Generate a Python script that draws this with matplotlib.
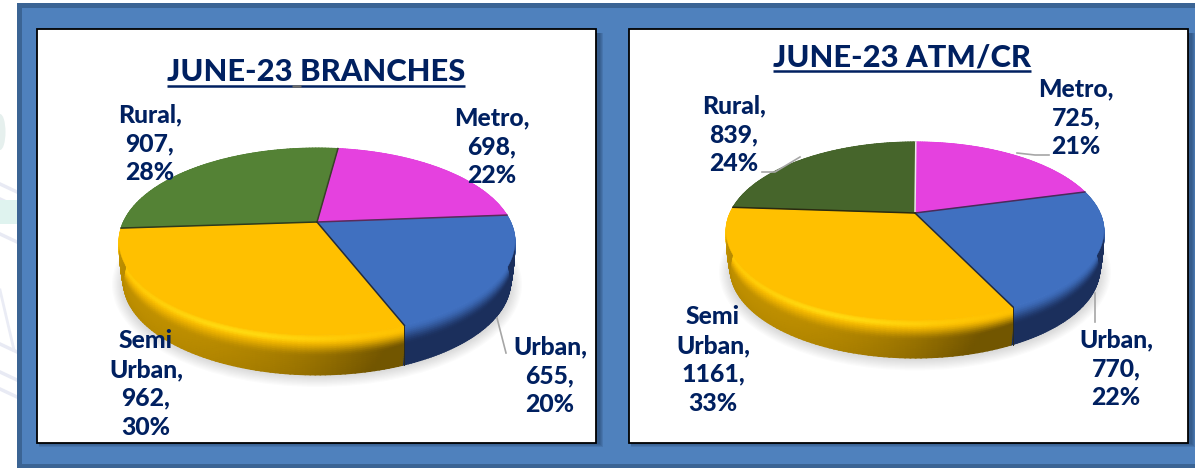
import numpy as np
import matplotlib
matplotlib.use('Agg')
import matplotlib.pyplot as plt
from matplotlib.patches import Rectangle, Ellipse

categories = ['Metro', 'Urban', 'Semi Urban', 'Rural']
branches = [698, 655, 962, 907]
atm_cr = [725, 770, 1161, 839]

title_left = 'JUNE-23 BRANCHES'
title_right = 'JUNE-23 ATM/CR'

navy = '#002060'
grey = '#A6A6A6'
tops = ['#E541DF', '#4070C0', '#FFC000']
darks = ['#6E1F6B', '#1B2F5C', '#6B5000']
green_left = '#548235'
green_right = '#46652B'

plt.rcParams['font.family'] = ['Lato', 'DejaVu Sans']

fig = plt.figure(figsize=(11.95, 4.68), dpi=100)
ax = fig.add_axes([0, 0, 1, 1])
ax.set_xlim(0, 1195)
ax.set_ylim(468, 0)
ax.axis('off')


def rgb(c):
    return np.array(matplotlib.colors.to_rgb(c))


def smooth(v, lo, hi):
    s = np.clip((v - lo) / (hi - lo), 0, 1)
    return s * s * (3 - 2 * s)


def project(theta, cx, cy, a, b, k):
    # theta is clockwise from the back of the pie, k gives the perspective
    u = np.sin(theta)
    v = np.cos(theta)
    p = 1 / (1 + k * v)
    return cx + a * u * p, cy - b * v * p


def draw_pie(values, start, cx, cy, a, b, k, depth, colors, dark_colors, spoke_colors):
    edges = start + 2 * np.pi * np.concatenate([[0], np.cumsum(values)]) / np.sum(values)
    half = a / np.sqrt(1 - k * k)
    shadow_y = cy + b * k / (1 - k * k) + depth + 3

    # soft shadow under the pie
    for i in range(12):
        ax.add_patch(Ellipse((cx, shadow_y), 2 * half + 14 - 2.5 * i, 2 * b + 26 - 2.5 * i,
                             fc='#808080', ec='none', alpha=0.03, zorder=2))

    # side of the pie, back slices first so the front ones cover them
    for i in [3, 0, 1, 2]:
        th = np.linspace(edges[i], edges[i + 1], 90)
        x, y = project(th, cx, cy, a, b, k)
        t = np.linspace(0, 1, 21)
        X = cx + (x[None, :] - cx) * (1 - 0.022 * t[:, None] ** 2)
        Y = y[None, :] + t[:, None] * depth
        h = (x - (cx - half)) / (2 * half)
        base = rgb(colors[i])
        dark = rgb(dark_colors[i])
        C = np.zeros((21, 90, 3))
        for r, tv in enumerate(t):
            if i == 2:
                s = smooth(tv, 0.12, 0.55) * (0.36 + 1.25 * h ** 2.2 + 0.12 * tv)
                s = np.clip(s, 0, 0.95)
                glow = np.exp(-((tv - 0.1) / 0.08) ** 2) * np.exp(-((h - 0.3) / 0.28) ** 2)
                col = base[None, :] * (1 - s[:, None]) + dark * s[:, None]
                col = col * (1 - glow[:, None] * 0.7) + rgb('#FFE81A') * glow[:, None] * 0.7
            else:
                s = smooth(tv, 0.0, 0.5) * np.ones(90)
                col = base[None, :] * (1 - s[:, None]) + dark * s[:, None]
            C[r] = col
        ax.pcolormesh(X, Y, C, shading='gouraud', zorder=3)
    # dark seam where yellow meets blue on the side
    x0, y0 = project(edges[2], cx, cy, a, b, k)
    ax.plot([x0, x0], [y0, y0 + depth], color='#2A2A20', lw=0.7, zorder=4)

    # top of the pie
    for i in range(len(values)):
        th = np.linspace(edges[i], edges[i + 1], 160)
        x, y = project(th, cx, cy, a, b, k)
        ax.fill(np.r_[cx, x], np.r_[cy, y], color=colors[i], lw=0.3, zorder=5)
    for i in range(len(values)):
        x, y = project(edges[i], cx, cy, a, b, k)
        ax.plot([cx, x], [cy, y], color=spoke_colors[i], lw=1.1, zorder=6)


def labels(values):
    total = sum(values)
    out = []
    for name, v in zip(categories, values):
        out.append('%s,\n%d,\n%d%%' % (name.replace(' ', '\n'), v, round(100 * v / total)))
    return out


# page behind the panel, faint clip art on the left
for yy in [190, 205, 240, 350, 378, 395]:
    ax.plot([0, 17], [yy - 6, yy + 2], color='#E8EAF4', lw=2.5, zorder=0)
ax.plot([0, 14], [290, 350], color='#EAECF5', lw=2, zorder=0)
ax.add_patch(Ellipse((0, 132), 11, 36, fc='#E6F0EE', ec='none', zorder=0))
ax.add_patch(Rectangle((0, 200), 17, 24, fc='#DFF3EF', ec='none', zorder=0))

# blue panel
ax.add_patch(Rectangle((17, 3), 1178, 465, fc='#4F81BD', ec='none', zorder=0.5))
for r in [(17, 3, 1178, 5), (17, 3, 5, 465), (17, 464, 1178, 4)]:
    ax.add_patch(Rectangle(r[:2], r[2], r[3], fc='#3B6494', ec='none', zorder=0.6))

# white chart boxes
for x0, w in [(37, 559), (629, 559)]:
    for i in range(4):
        ax.add_patch(Rectangle((x0 + 2, 33), w + 2 + i, 411 + i, fc='#1F3A5F', ec='none',
                               alpha=0.16, zorder=0.8))
    ax.add_patch(Rectangle((x0, 29), w, 414, fc='white', ec='black', lw=1.3, zorder=1))

draw_pie(branches, np.radians(7.5), 317, 222, 193.6, 89.4, 0.2086, 40,
         tops + [green_left], darks + ['#2E4A1C'], ['#3A3F2A', '#5A2A5A', '#1F2A40', '#2E3A1C'])
draw_pie(atm_cr, np.radians(0.3), 915, 213, 185, 85.4, 0.2022, 38,
         tops + [green_right], darks + ['#2E4A1C'], ['#E8E8E8', '#4A2A5A', '#1F2A40', '#2A2A10'])

# leader lines
ax.plot([497, 506], [318, 353], color=grey, lw=1.2, zorder=7)
ax.plot([1017, 1035, 1049], [153, 155, 155], color=grey, lw=1.2, zorder=7)
ax.plot([800, 775, 762], [157, 172, 172], color=grey, lw=1.2, zorder=7)
ax.plot([1095, 1095], [293, 322], color=grey, lw=1.2, zorder=7)

# data labels
left_pos = [(492, 147), (550, 376), (146, 384), (150, 144)]
right_pos = [(1076, 118), (1116, 369), (713, 360), (734, 135)]
for txts, pos in [(labels(branches), left_pos), (labels(atm_cr), right_pos)]:
    for s, (x, y) in zip(txts, pos):
        ax.text(x, y, s, ha='center', va='center', color=navy, fontsize=17.8,
                fontweight=900, linespacing=1.3, zorder=8)

# titles
ax.text(316, 81, title_left, ha='center', va='baseline', color=navy, fontsize=22.2, fontweight=900, zorder=8)
ax.text(902, 67, title_right, ha='center', va='baseline', color=navy, fontsize=22.2, fontweight=900, zorder=8)
ax.plot([167, 465], [86, 86], color=navy, lw=1.8, solid_capstyle='butt', zorder=8)
ax.plot([292, 301], [86, 86], color='#6B6B6B', lw=1.8, solid_capstyle='butt', zorder=9)
ax.plot([773, 1031], [71, 71], color=navy, lw=1.8, solid_capstyle='butt', zorder=8)

ax.set_xlim(0, 1195)
ax.set_ylim(468, 0)
fig.savefig('out.png', dpi=100)
